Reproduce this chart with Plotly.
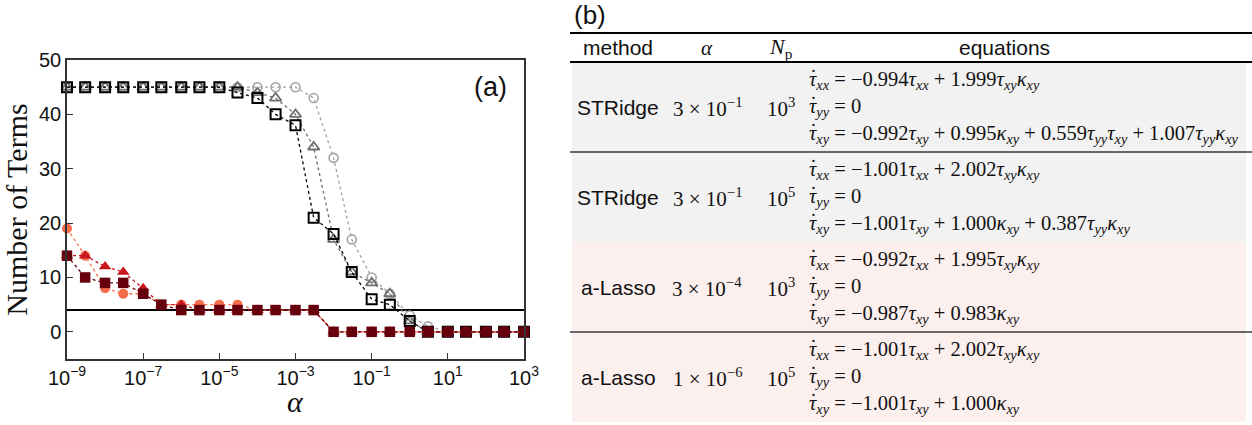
import plotly.graph_objects as go

W, H = 1252, 425

# ---------------- panel (a): number of identified terms vs alpha ----------------
alpha = [1e-9, 3e-9, 1e-8, 3e-8, 1e-7, 3e-7, 1e-6, 3e-6, 1e-5, 3e-5,
         1e-4, 3e-4, 1e-3, 3e-3, 1e-2, 3e-2, 1e-1, 3e-1, 1e0, 3e0,
         1e1, 3e1, 1e2, 3e2, 1e3]

# STRidge (open markers, grey -> black)
stridge_circle = [45, 45, 45, 45, 45, 45, 45, 45, 45, 45, 45, 45, 45,
                  43, 32, 17, 10, 7, 3, 1, 0, 0, 0, 0, 0]
stridge_triangle = [45, 45, 45, 45, 45, 45, 45, 45, 45, 45, 44, 43, 40,
                    34, 17, 11, 9, 7, 2, 0, 0, 0, 0, 0, 0]
stridge_square = [45, 45, 45, 45, 45, 45, 45, 45, 45, 44, 43, 40, 38,
                  21, 18, 11, 6, 5, 2, 0, 0, 0, 0, 0, 0]

# adaptive Lasso (filled markers, reds)
lasso_circle = [19, 14, 8, 7, 7, 5, 5, 5, 5, 5, 4, 4, 4, 4,
                0, 0, 0, 0, 0, 0, 0, 0, 0, 0, 0]
lasso_triangle = [14, 14, 12, 11, 8, 5, 5, 4, 4, 4, 4, 4, 4, 4,
                  0, 0, 0, 0, 0, 0, 0, 0, 0, 0, 0]
lasso_square = [14, 10, 9, 9, 7, 5, 4, 4, 4, 4, 4, 4, 4, 4,
                0, 0, 0, 0, 0, 0, 0, 0, 0, 0, 0]

true_terms = 4

x_tick_exp = [-9, -7, -5, -3, -1, 1, 3]
y_ticks = [0, 10, 20, 30, 40, 50]

# ---------------- panel (b): identified equations ----------------
methods = ["STRidge", "STRidge", "a-Lasso", "a-Lasso"]
alpha_mant = [3, 3, 3, 1]
alpha_exp = [-1, -1, -4, -6]
np_exp = [3, 5, 3, 5]

eq_xx = [
    [(-0.994, "txx"), (1.999, "txy kxy")],
    [(-1.001, "txx"), (2.002, "txy kxy")],
    [(-0.992, "txx"), (1.995, "txy kxy")],
    [(-1.001, "txx"), (2.002, "txy kxy")],
]
eq_yy = [[], [], [], []]
eq_xy = [
    [(-0.992, "txy"), (0.995, "kxy"), (0.559, "tyy txy"), (1.007, "tyy kxy")],
    [(-1.001, "txy"), (1.000, "kxy"), (0.387, "tyy kxy")],
    [(-0.987, "txy"), (0.983, "kxy")],
    [(-1.001, "txy"), (1.000, "kxy")],
]

row_fill = ["#f2f2f2", "#f2f2f2", "#fcf0ef", "#fcf0ef"]
thin_rule_rows = [1, 3]

SANS = "Liberation Sans, Arial, sans-serif"
SERIF = "Liberation Serif, Times New Roman, serif"
INK = "#111111"

SYM = {
    "txx": "<i>τ</i><sub><i>xx</i></sub>",
    "tyy": "<i>τ</i><sub><i>yy</i></sub>",
    "txy": "<i>τ</i><sub><i>xy</i></sub>",
    "kxy": "<i>κ</i><sub><i>xy</i></sub>",
}


def lhs(comp):
    return f"<i>τ</i><sub><i>{comp}</i></sub> = "


def rhs(terms):
    if not terms:
        return "0"
    out = ""
    for i, (c, t) in enumerate(terms):
        mag = f"{abs(c):.3f}"
        if i == 0:
            out += ("−" if c < 0 else "") + mag
        else:
            out += (" − " if c < 0 else " + ") + mag
        out += "".join(SYM[k] for k in t.split())
    return out


fig = go.Figure()

# reference line: number of terms in the true model
fig.add_trace(go.Scatter(
    x=[alpha[0], alpha[-1]], y=[true_terms, true_terms], mode="lines",
    line=dict(color="black", width=2), hoverinfo="skip", showlegend=False))

series = [
    (stridge_circle, "circle-open", "#a3a3a3", 9, 1.6),
    (stridge_triangle, "triangle-up-open", "#6e6e6e", 10, 1.8),
    (stridge_square, "square-open", "#000000", 10, 2.0),
    (lasso_circle, "circle", "#f66d4c", 10, 0),
    (lasso_triangle, "triangle-up", "#c8161d", 11, 0),
    (lasso_square, "square", "#67000d", 10.5, 0),
]
for vals, sym, col, size, lw in series:
    fig.add_trace(go.Scatter(
        x=alpha, y=vals, mode="lines+markers", cliponaxis=False,
        line=dict(color=col, width=1.3, dash="dot"),
        marker=dict(symbol=sym, size=size, color=col,
                    line=dict(color=col, width=lw)),
        showlegend=False))

# placeholder trace so the table axes exist
fig.add_trace(go.Scatter(x=[600], y=[0], xaxis="x2", yaxis="y2", mode="markers",
                         marker=dict(opacity=0), hoverinfo="skip", showlegend=False))

axis_common = dict(showline=True, linecolor="#333333", linewidth=1.5, mirror=True,
                   ticks="inside", ticklen=6, tickwidth=1.2, tickcolor="#333333",
                   showgrid=False, zeroline=False, automargin=False,
                   tickfont=dict(family=SANS, size=20, color=INK))

fig.update_layout(
    width=W, height=H, margin=dict(l=0, r=0, t=0, b=0, autoexpand=False),
    paper_bgcolor="white", plot_bgcolor="white",
    xaxis=dict(type="log", domain=[67 / W, 524 / W], range=[-9, 3],
               tickvals=[10.0 ** e for e in x_tick_exp],
               ticktext=[f"10<sup>{'−' if e < 0 else ''}{abs(e)}</sup>" for e in x_tick_exp],
               anchor="y", **axis_common),
    yaxis=dict(domain=[66 / H, 365 / H], range=[-5, 50], tickvals=y_ticks,
               title=dict(text="Number of Terms",
                          font=dict(family=SERIF, size=30, color=INK), standoff=3),
               anchor="x", **axis_common),
    xaxis2=dict(domain=[570 / W, 1.0], range=[570, 1252], visible=False,
                fixedrange=True, anchor="y2"),
    yaxis2=dict(domain=[0.0, 1.0], range=[4 + 3 / 90, -62 / 90], visible=False,
                fixedrange=True, anchor="x2"),
)

# x-axis label, placed just under the tick labels
fig.add_annotation(text="<i>α</i>", xref="x domain", yref="paper", x=0.5,
                   y=1 - 401 / H, xanchor="center", yanchor="middle", showarrow=False,
                   font=dict(family=SERIF, size=30, color=INK))

fig.add_annotation(text="(a)", xref="x domain", yref="y domain",
                   x=(490 - 67) / 457, y=(359 - 87) / 299, showarrow=False,
                   xanchor="center", yanchor="middle",
                   font=dict(family=SANS, size=27, color=INK))

# ---- table (b) ----
shapes = []
n_rows = len(methods)
for i in range(n_rows):
    shapes.append(dict(type="rect", xref="x2", yref="y2", x0=572, x1=1246,
                       y0=i, y1=i + 1, fillcolor=row_fill[i], line=dict(width=0),
                       layer="below"))
header_top = -0.322
shapes.append(dict(type="line", xref="x2", yref="y2", x0=570, x1=1252,
                   y0=header_top, y1=header_top, line=dict(color="black", width=2.2)))
shapes.append(dict(type="line", xref="x2", yref="y2", x0=570, x1=1252,
                   y0=0, y1=0, line=dict(color="black", width=2.2)))
for r in thin_rule_rows:
    shapes.append(dict(type="line", xref="x2", yref="y2", x0=570, x1=1252,
                       y0=r, y1=r, line=dict(color="#3a3a3a", width=1.6)))
fig.update_layout(shapes=shapes)

col_method, col_alpha, col_np, col_eq, col_eq_head = 618, 707, 781, 807, 1004
header_y = header_top / 2


def tab_text(text, x, y, font, xanchor="center"):
    fig.add_annotation(text=text, xref="x2", yref="y2", x=x, y=y, showarrow=False,
                       xanchor=xanchor, yanchor="middle", font=font)


sans_font = dict(family=SANS, size=21, color=INK)
num_font = dict(family=SERIF, size=21, color=INK)
eq_font = dict(family=SERIF, size=20.5, color=INK)

tab_text("(b)", 572, -0.52, dict(family=SANS, size=26, color=INK), xanchor="left")
tab_text("method", col_method, header_y, sans_font)
tab_text("<i>α</i>", col_alpha, header_y, dict(family=SERIF, size=21, color=INK))
tab_text("<i>N</i><sub>p</sub>", col_np, header_y, dict(family=SERIF, size=22, color=INK))
tab_text("equations", col_eq_head, header_y, sans_font)

line_gap = 0.3
for i in range(n_rows):
    yc = i + 0.5
    tab_text(methods[i], col_method, yc, sans_font)
    tab_text(f"{alpha_mant[i]} × 10<sup>−{abs(alpha_exp[i])}</sup>",
             col_alpha, yc, num_font)
    tab_text(f"10<sup>{np_exp[i]}</sup>", col_np, yc, num_font)
    for k, (comp, terms) in enumerate([("xx", eq_xx[i]), ("yy", eq_yy[i]), ("xy", eq_xy[i])]):
        y_line = yc + (k - 1) * line_gap
        tab_text(lhs(comp) + rhs(terms), col_eq, y_line, eq_font, xanchor="left")
        # time-derivative dot over the leading tau
        tab_text("˙", col_eq + 6, y_line - 0.03, eq_font)

fig.write_html("out.html")
